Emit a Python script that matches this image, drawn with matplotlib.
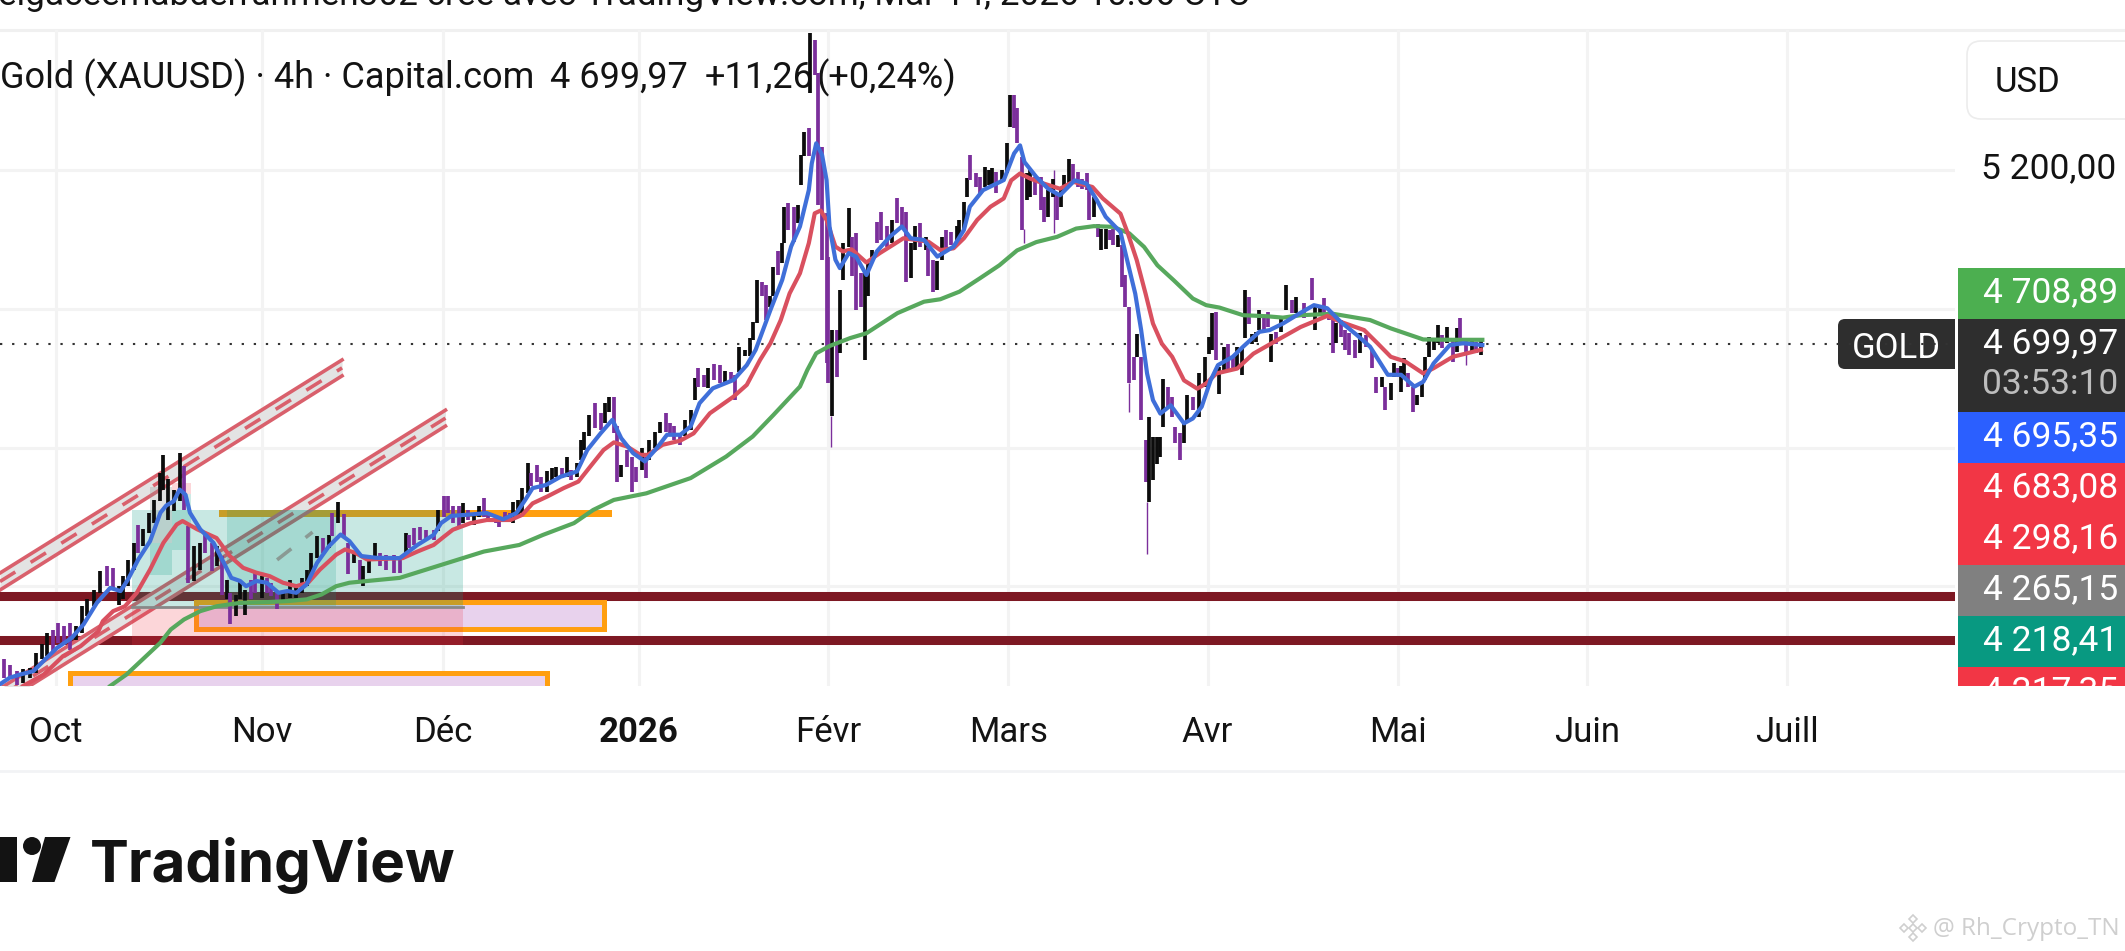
"""Gold 4h TradingView chart snapshot with EMAs and drawings."""

import matplotlib

matplotlib.use("Agg")
import matplotlib.pyplot as plt
import numpy as np
from matplotlib.patches import Circle, FancyBboxPatch, Polygon, Rectangle
from matplotlib.transforms import ScaledTranslation

plt.rcParams["font.family"] = ["Roboto", "DejaVu Sans"]

WIDTH, HEIGHT = 2125, 951
CHART_RIGHT, CHART_TOP, CHART_BOTTOM = 1955, 30, 686

# x is counted in 4h bars from the start of October 2025
month_bars = [0, 139.5, 262, 395, 523, 645, 780, 909, 1037, 1172]
month_labels = ["Oct", "Nov", "Déc", "2026", "Févr", "Mars", "Avr", "Mai", "Juin", "Juill"]
grid_prices = [4000, 4400, 4800, 5200]
last_price = 4699.97

# candles, roughly one for every four bars
candle_bar = [
    -35, -31, -26, -22, -17, -13, -9, -6, -2, 2,
    6, 10, 14, 18, 21, 26, 30, 35, 39, 43,
    46, 49, 53, 56, 59, 63, 67, 71, 73, 76,
    80, 84, 87, 90, 94, 98, 101, 106, 109, 113,
    116, 118, 122, 125, 128, 132, 135, 140, 143, 146,
    150, 154, 159, 163, 167, 170, 173, 177, 181, 185,
    187, 191, 195, 198, 202, 206, 208, 212, 216, 220,
    224, 229, 233,
    237, 239, 243, 247, 251, 256, 259, 263, 266, 269,
    273, 276, 279, 283, 287, 290, 293, 298, 300, 304,
    308, 310, 313, 316, 320, 322, 326, 329, 333, 336,
    339, 343, 346, 349, 353, 356, 358, 361, 365, 369,
    372, 375, 378, 380, 383, 387, 390, 393, 397, 400,
    402, 406, 409, 413, 416, 419, 423, 426, 430, 433,
    435, 439, 442, 446, 450, 453, 457, 460, 463, 467,
    470, 472,
    475, 478, 481, 484, 486, 489, 492, 493, 496, 500,
    503, 505, 507, 510, 511, 514, 516, 519, 522, 523,
    526, 529, 531, 533, 537, 539, 542, 545, 548, 550,
    553, 556, 559, 563, 566, 570, 573, 576, 579, 582,
    585, 589, 591, 594, 597, 600, 603, 606, 610, 612,
    615, 617, 619, 623, 626, 629, 632, 634, 637, 641,
    644, 646, 649, 651,
    654, 658, 660, 663, 667, 669, 672, 675, 678, 681,
    683, 686, 689, 692, 695, 698, 700, 703, 706, 708,
    711, 714, 716, 719, 722, 724, 727, 730, 732, 735,
    738, 740, 743, 746, 748, 750, 753, 756, 758, 761,
    764, 766, 770, 774, 778, 781, 783, 786, 788, 791,
    794, 797, 800, 803, 805, 808, 810, 813, 815, 818,
    821, 823, 826, 830, 833, 837, 840,
    845, 851, 853, 856, 859, 862, 865, 867, 870, 873,
    876, 880, 883, 887, 891, 894, 898, 900, 904, 906,
    909, 911, 913, 916, 919, 922, 925, 927, 930, 933,
    936, 939, 942, 946, 949, 951, 955, 959, 962, 965,
]
candle_high = [
    3789, 3774, 3755, 3760, 3765, 3808, 3832, 3865, 3875, 3894,
    3885, 3894, 3885, 3942, 3962, 3990, 4043, 4058, 4053, 4000,
    4029, 4077, 4125, 4178, 4164, 4212, 4250, 4327, 4380, 4308,
    4279, 4383, 4346, 4173, 4115, 4125, 4149, 4125, 4115, 4087,
    4019, 3981, 3976, 4019, 3990, 4019, 4043, 4029, 4024, 4010,
    3986, 3986, 4019, 4000, 4024, 4048, 4096, 4144, 4139, 4149,
    4212, 4242, 4207, 4125, 4101, 4077, 4058, 4091, 4125, 4096,
    4091, 4091, 4077,
    4153, 4148, 4167, 4172, 4163, 4163, 4220, 4259, 4259, 4230,
    4230, 4239, 4220, 4211, 4230, 4254, 4215, 4206, 4201, 4215,
    4211, 4244, 4249, 4283, 4355, 4326, 4350, 4316, 4331, 4340,
    4345, 4340, 4374, 4336, 4355, 4422, 4446, 4494, 4528, 4499,
    4528, 4547, 4547, 4461, 4350, 4393, 4374, 4345, 4398, 4374,
    4422, 4446, 4475, 4499, 4470, 4461, 4441, 4480, 4509, 4600,
    4629, 4610, 4629, 4641, 4638, 4622, 4619, 4610, 4691, 4682,
    4715, 4763,
    4884, 4879, 4869, 4836, 4922, 4966, 4990, 5095, 5105, 5095,
    5100, 5244, 5312, 5321, 5595, 5576, 5480, 5268, 5076, 4951,
    4740, 4740, 4855, 4990, 5091, 5009, 5018, 4903, 4903, 4932,
    4970, 5052, 5081, 5038, 5057, 5119, 5095, 5081, 4990, 5038,
    5047, 5009, 4980, 4942, 4937, 5009, 5028, 5023, 5038, 5057,
    5110, 5177, 5244, 5192, 5182, 5211, 5201, 5206, 5196, 5201,
    5278, 5417, 5417, 5379,
    5238, 5191, 5200, 5181, 5181, 5123, 5143, 5176, 5133, 5143,
    5186, 5234, 5219, 5195, 5176, 5191, 5143, 5123, 5046, 5032,
    5032, 5027, 5032, 5013, 4984, 4897, 4806, 4662, 4729, 4662,
    4421, 4489, 4431, 4431, 4431, 4599, 4575, 4546, 4460, 4441,
    4470, 4551, 4546, 4614, 4662, 4719, 4787, 4792, 4633, 4691,
    4700, 4662, 4691, 4691, 4854, 4835, 4729, 4734, 4796, 4777,
    4792, 4729, 4734, 4777, 4869, 4825, 4835,
    4816, 4888, 4811, 4811, 4831, 4792, 4768, 4759, 4768, 4739,
    4730, 4711, 4730, 4725, 4682, 4605, 4605, 4576, 4585, 4643,
    4629, 4634, 4658, 4614, 4576, 4552, 4586, 4662, 4720, 4715,
    4754, 4725, 4747, 4711, 4744, 4773, 4711, 4715, 4706, 4715,
]
candle_low = [
    3736, 3736, 3716, 3721, 3736, 3750, 3789, 3798, 3813, 3837,
    3837, 3817, 3846, 3865, 3914, 3942, 3981, 4000, 3990, 3947,
    3962, 4000, 4048, 4096, 4115, 4154, 4183, 4245, 4279, 4192,
    4216, 4245, 4221, 4010, 4015, 4048, 4096, 4043, 4058, 3976,
    3962, 3890, 3914, 3962, 3918, 3962, 3981, 3966, 3981, 3971,
    3933, 3952, 3966, 3966, 3981, 4000, 4029, 4082, 4096, 4111,
    4144, 4183, 4144, 4034, 4067, 4010, 4000, 4039, 4072, 4058,
    4048, 4039, 4039,
    4081, 4110, 4119, 4134, 4134, 4134, 4158, 4201, 4211, 4182,
    4172, 4182, 4191, 4177, 4201, 4201, 4191, 4182, 4170, 4187,
    4187, 4182, 4201, 4211, 4268, 4288, 4302, 4273, 4273, 4307,
    4316, 4312, 4316, 4307, 4316, 4364, 4393, 4432, 4456, 4451,
    4470, 4504, 4441, 4302, 4316, 4345, 4273, 4302, 4336, 4312,
    4364, 4398, 4441, 4446, 4432, 4422, 4408, 4432, 4451, 4537,
    4576, 4576, 4571, 4595, 4586, 4586, 4590, 4538, 4619, 4663,
    4663, 4711,
    4759, 4836, 4769, 4807, 4836, 4898, 4932, 4990, 5028, 4994,
    5047, 5158, 5240, 5240, 5422, 5475, 5100, 4942, 4644, 4586,
    4490, 4605, 4672, 4884, 4980, 4894, 4797, 4807, 4653, 4836,
    4932, 4990, 4999, 4980, 4990, 5047, 5038, 4879, 4889, 4970,
    4980, 4970, 4894, 4850, 4855, 4942, 4970, 4985, 4985, 4990,
    5028, 5124, 5172, 5153, 5134, 5153, 5158, 5153, 5134, 5172,
    5192, 5326, 5321, 5278,
    5027, 5114, 5123, 5128, 5085, 5051, 5066, 5123, 5056, 5094,
    5143, 5157, 5162, 5152, 5147, 5143, 5056, 5066, 5008, 4969,
    4974, 4998, 4984, 4979, 4864, 4806, 4585, 4595, 4662, 4479,
    4301, 4243, 4306, 4354, 4373, 4460, 4518, 4489, 4412, 4364,
    4412, 4470, 4508, 4489, 4575, 4671, 4681, 4652, 4556, 4614,
    4623, 4623, 4623, 4609, 4715, 4758, 4700, 4705, 4739, 4739,
    4748, 4647, 4700, 4734, 4796, 4787, 4787,
    4773, 4826, 4739, 4783, 4787, 4768, 4672, 4701, 4720, 4682,
    4667, 4658, 4672, 4691, 4629, 4557, 4576, 4509, 4537, 4605,
    4605, 4559, 4605, 4576, 4504, 4523, 4547, 4595, 4662, 4682,
    4701, 4686, 4701, 4648, 4677, 4701, 4667, 4677, 4672, 4667,
]
candle_up = [
    0, 0, 0, 1, 1, 1, 1, 1, 0, 0,
    0, 0, 1, 1, 1, 1, 1, 0, 0, 1,
    1, 1, 1, 0, 1, 1, 1, 1, 1, 1,
    1, 1, 0, 0, 1, 1, 0, 0, 1, 0,
    1, 0, 1, 1, 1, 0, 0, 1, 0, 0,
    0, 1, 1, 1, 1, 1, 1, 1, 0, 1,
    0, 1, 0, 0, 1, 0, 1, 1, 1, 0,
    0, 0, 0,
    1, 0, 0, 0, 0, 0, 1, 0, 0, 0,
    0, 1, 0, 1, 1, 0, 0, 0, 0, 0,
    0, 1, 1, 1, 1, 0, 0, 0, 1, 1,
    1, 0, 1, 0, 1, 1, 1, 1, 0, 0,
    1, 1, 0, 0, 1, 0, 0, 0, 1, 0,
    1, 1, 1, 0, 0, 0, 0, 1, 1, 1,
    0, 0, 1, 0, 0, 1, 0, 0, 1, 1,
    1, 1,
    1, 0, 0, 1, 1, 0, 1, 1, 0, 0,
    1, 1, 1, 0, 1, 0, 0, 0, 0, 0,
    1, 0, 1, 1, 1, 0, 0, 0, 1, 1,
    1, 0, 0, 0, 1, 0, 0, 0, 1, 1,
    0, 1, 0, 0, 1, 1, 0, 0, 1, 1,
    1, 1, 0, 0, 0, 1, 1, 1, 0, 1,
    1, 1, 0, 0,
    0, 1, 1, 0, 0, 0, 1, 1, 0, 1,
    1, 1, 0, 0, 0, 0, 0, 1, 0, 1,
    1, 0, 0, 1, 0, 0, 0, 0, 1, 0,
    0, 1, 1, 1, 1, 1, 0, 0, 0, 0,
    1, 1, 0, 1, 1, 1, 1, 0, 1, 1,
    0, 0, 1, 1, 1, 0, 1, 1, 1, 0,
    0, 1, 0, 1, 1, 0, 1,
    0, 0, 1, 1, 0, 0, 0, 1, 0, 0,
    0, 0, 1, 0, 0, 0, 1, 0, 1, 1,
    0, 1, 1, 0, 0, 1, 1, 1, 1, 1,
    1, 0, 1, 0, 1, 0, 0, 1, 0, 1,
]

# the long thin wicks
wick_bar = [525, 739, 727, 676, 656, 955]
wick_high = [4490, 4243, 4585, 5200, 5030, 4700]
wick_low = [4403, 4094, 4503, 5018, 4990, 4638]

fast_bar = [
    -38, -31, -24, -15, -7, 1, 11, 19, 28, 37, 44, 49, 56, 64, 71, 75, 80, 84, 88, 91,
    98, 107, 114, 119, 125, 129, 136, 143, 151, 157, 163, 170, 177, 185, 193, 199, 207, 217,
    233, 245, 256, 261, 268, 278, 292, 303, 312, 318, 323, 332, 342, 353, 360, 369, 377, 383,
    391, 399, 407, 414, 423, 430, 436, 445, 459, 468, 474,
    484, 492, 498, 504, 510, 512, 515, 519, 522, 524, 528, 531, 537, 542, 549, 556, 565, 573,
    579, 588, 597, 608, 615, 619, 628, 642, 649,
    653, 656, 664, 672, 680, 690, 698, 705, 711, 721, 725, 731, 735, 739, 743, 748, 755, 764,
    770, 776, 782, 787, 797, 804, 815, 822, 831,
    843, 852, 861, 870, 881, 890, 902, 911, 920, 926, 933, 944, 953, 966,
]
fast_price = [
    3716, 3736, 3745, 3755, 3789, 3822, 3851, 3890, 3952, 3995, 3986, 4019, 4077, 4130, 4212, 4233, 4245, 4279, 4264, 4212,
    4164, 4125, 4067, 4024, 4015, 4000, 4015, 4010, 3981, 3986, 3981, 4005, 4067, 4115, 4149, 4130, 4087, 4082,
    4081, 4119, 4148, 4182, 4203, 4206, 4211, 4193, 4211, 4249, 4283, 4292, 4316, 4331, 4393, 4441, 4480, 4427,
    4384, 4360, 4398, 4437, 4437, 4461, 4528, 4571, 4595, 4638, 4682,
    4797, 4884, 4980, 5038, 5143, 5220, 5278, 5244, 5172, 5038, 4942, 4918, 4961, 4951, 4898, 4966, 5009, 5038,
    5004, 4999, 4951, 4980, 5028, 5095, 5143, 5172, 5249,
    5272, 5224, 5181, 5147, 5128, 5171, 5162, 5114, 5066, 5022, 4950, 4844, 4739, 4614, 4537, 4498, 4522, 4470,
    4484, 4518, 4594, 4638, 4662, 4691, 4734, 4739, 4758,
    4789, 4811, 4802, 4763, 4725, 4691, 4610, 4610, 4576, 4590, 4643, 4696, 4701, 4696,
]

mid_bar = [
    -22, -8, 5, 17, 29, 32, 39, 47, 55, 64, 73, 82, 86, 96, 109, 118, 127, 136, 145, 154,
    163, 171, 179, 190, 196, 203, 211,
    235, 245, 256, 263, 269, 281, 292, 308, 316, 323, 333, 344, 354, 362, 371, 378, 387, 396,
    401, 411, 423, 432, 443, 459, 468,
    477, 484, 491, 497, 504, 510, 514, 518, 522, 528, 533, 539, 549, 558, 567, 574, 583, 591,
    599, 608, 615, 624, 633, 642,
    647, 653, 660, 669, 680, 689, 702, 709, 721, 726, 732, 738, 743, 749, 756, 764, 773, 779,
    786, 800, 811, 825, 843,
    861, 870, 886, 895, 904, 914, 926, 933, 946, 965,
]
mid_price = [
    3712, 3745, 3798, 3827, 3870, 3899, 3928, 3942, 3981, 4048, 4125, 4178, 4188, 4164, 4139, 4087, 4053, 4039, 4029, 4010,
    4000, 4010, 4048, 4091, 4106, 4096, 4077,
    4081, 4100, 4119, 4143, 4163, 4182, 4191, 4191, 4206, 4239, 4259, 4283, 4302, 4345, 4393, 4415, 4403, 4379,
    4379, 4408, 4420, 4441, 4499, 4547, 4581,
    4653, 4701, 4768, 4845, 4903, 4990, 5076, 5084, 5057, 4980, 4966, 4972, 4934, 4961, 4985, 5004, 4999, 4994,
    4970, 4975, 5004, 5057, 5095, 5119,
    5171, 5191, 5176, 5162, 5147, 5167, 5152, 5119, 5075, 5018, 4941, 4844, 4758, 4700, 4662, 4594, 4570, 4585,
    4614, 4628, 4671, 4705, 4748,
    4780, 4763, 4739, 4701, 4662, 4648, 4614, 4629, 4662, 4682,
]

slow_bar = [
    37, 48, 59, 71, 78, 87, 98, 109, 125, 143, 157, 170, 180, 190, 199, 211, 233,
    272, 290, 314, 330, 351, 364, 378, 400, 430, 454, 472, 486, 504,
    509, 515, 524, 538, 549, 570, 588, 599, 612, 626,
    639, 651, 664, 678, 691, 703, 716, 727, 737, 746, 757, 770, 779, 788, 804, 820, 831, 843,
    865, 890, 904, 926, 946, 966,
]
slow_price = [
    3712, 3745, 3789, 3837, 3875, 3904, 3928, 3942, 3952, 3954, 3957, 3962, 3976, 4000, 4010, 4015, 4024,
    4076, 4100, 4119, 4148, 4182, 4220, 4249, 4268, 4312, 4374, 4432, 4494, 4576,
    4624, 4672, 4693, 4716, 4730, 4788, 4821, 4828, 4850, 4889,
    4926, 4969, 4993, 5008, 5032, 5039, 5037, 5018, 4979, 4926, 4883, 4830, 4811, 4804, 4782, 4779, 4775, 4782,
    4786, 4768, 4744, 4712, 4711, 4711,
]

# horizontal levels and diagonal channels drawn on the chart
level_prices = [3972, 3845]
channel_bars = [[-37.6, 194], [-36, 264]]
channel_tops = [[4038, 4653], [3709, 4508]]
channel_bottoms = [[3989, 4607], [3663, 4462]]

price_tags = ["4 708,89", "4 699,97", "4 695,35", "4 683,08", "4 298,16", "4 265,15", "4 218,41", "4 217,35"]
tag_colors = ["#4caf50", "#2e2e2e", "#2b5fff", "#f23645", "#f23645", "#808080", "#089981", "#f23645"]
countdown = "03:53:10"

BLACK = "#131313"
UP_COLOR = "#0c0c0c"
DOWN_COLOR = "#7b2f9b"
TEAL = "#089981"
PINK = "#f23645"
ORANGE = "#ff9f10"
MAUVE = "#e8d2ed"
DARK_RED = "#7d1823"
CHANNEL = "#d9606c"


def add_box(ax, left, right, low, high, **style):
    """Add a rectangle given in bars and prices."""
    ax.add_patch(Rectangle((left, low), right - left, high - low, **style))


def draw_drawings(ax):
    """Draw the user's levels, boxes and channels below the price series."""
    for price in level_prices:
        ax.axhline(price, color=DARK_RED, lw=6.5, zorder=2)

    add_box(ax, 111, 377, 4200, 4220, color=ORANGE, lw=0, zorder=3)
    add_box(ax, 95, 371, 3876, 3954, fc=MAUVE, ec=ORANGE, lw=3.6, zorder=3)
    add_box(ax, 10, 333, 3600, 3749, fc=MAUVE, ec=ORANGE, lw=3.6, zorder=3)

    for bars, tops, bottoms in zip(channel_bars, channel_tops, channel_bottoms):
        ax.fill_between(bars, bottoms, tops, color="#e3e3e3", lw=0, zorder=3)
        ax.plot(bars, tops, color=CHANNEL, lw=2.6, zorder=3.1)
        ax.plot(bars, bottoms, color=CHANNEL, lw=2.6, zorder=3.1)
        middle = (np.array(tops) + np.array(bottoms)) / 2
        ax.plot(bars, middle, color=CHANNEL, lw=2.6, ls=(0, (5, 5)), zorder=3.1)

    add_box(ax, 52, 276, 3940, 4220, color=TEAL, alpha=0.22, lw=0, zorder=4)
    add_box(ax, 116, 190, 3940, 4220, color=TEAL, alpha=0.18, lw=0, zorder=4)
    add_box(ax, 52, 276, 3830, 3940, color=PINK, alpha=0.2, lw=0, zorder=4)
    ax.plot([52, 276], [3940, 3940], color="#888888", lw=2, zorder=4.1)

    add_box(ax, 64, 79, 4125, 4286, color="#999999", alpha=0.3, lw=0, zorder=4)
    add_box(ax, 64, 79, 4032, 4125, color=TEAL, alpha=0.2, lw=0, zorder=4)
    add_box(ax, 79, 92, 4266, 4298, color=PINK, alpha=0.2, lw=0, zorder=4)
    add_box(ax, 79, 92, 4105, 4266, color=TEAL, alpha=0.2, lw=0, zorder=4)
    ax.plot([150, 174], [4076, 4156], color="#8a9a94", lw=2.6, ls=(0, (5, 5)), zorder=4.1)


def draw_series(ax):
    """Draw candles and the three moving averages."""
    up = np.array(candle_up, dtype=bool)
    colors = np.where(up, UP_COLOR, DOWN_COLOR)
    ax.vlines(wick_bar, wick_low, wick_high, color=DOWN_COLOR, lw=1.0, zorder=5)
    ax.vlines(candle_bar, candle_low, candle_high, colors=list(colors), lw=2.7, zorder=5)
    ax.plot(slow_bar, slow_price, color="#57a85d", lw=3.0, zorder=6)
    ax.plot(mid_bar, mid_price, color="#d9505f", lw=3.0, zorder=6)
    ax.plot(fast_bar, fast_price, color="#3f6fd9", lw=3.0, zorder=6)


def draw_price_scale(fig):
    """Draw the stacked price tags at the right of the chart."""
    scale = fig.add_axes(
        [1958 / WIDTH, 1 - CHART_BOTTOM / HEIGHT, (WIDTH - 1958) / WIDTH, (CHART_BOTTOM - CHART_TOP) / HEIGHT]
    )
    scale.set_xlim(1958, WIDTH)
    scale.set_ylim(CHART_BOTTOM, CHART_TOP)
    scale.axis("off")

    top = 268
    for tag, color in zip(price_tags, tag_colors):
        height = 93 if tag == "4 699,97" else 51
        scale.add_patch(Rectangle((1958, top), WIDTH - 1958, height, color=color, lw=0))
        scale.text(2118, top + 25, tag, color="white", fontsize=25.5, ha="right", va="center", clip_on=True)
        if tag == "4 699,97":
            scale.text(2118, top + 66, countdown, color="#bdbdbd", fontsize=25.5, ha="right", va="center")
        top += height


def draw_page(fig):
    """Draw everything around the chart, in pixel coordinates."""
    page = fig.add_axes([0, 0, 1, 1])
    page.set_xlim(0, WIDTH)
    page.set_ylim(HEIGHT, 0)
    page.axis("off")

    page.plot([0, WIDTH], [CHART_TOP, CHART_TOP], color="#f0f0f0", lw=2.2)
    page.plot([0, WIDTH], [771, 771], color="#f2f3f5", lw=2)

    page.text(
        -2, 5, "elgaceemabderrahmen302 créé avec TradingView.com, Mar 14, 2026 10:06 UTC",
        color=BLACK, fontsize=25.3, va="baseline", ha="left",
    )

    page.add_patch(
        FancyBboxPatch((1967, 41), 200, 78, boxstyle="round,pad=0,rounding_size=14", fc="white", ec="#ececec", lw=1.2)
    )
    page.text(1995, 83, "USD", color=BLACK, fontsize=25, va="center")

    page.add_patch(
        FancyBboxPatch((1838, 319), 130, 50, boxstyle="round,pad=0,rounding_size=7", fc="#2e2e2e", ec="none")
    )
    page.add_patch(Rectangle((1955, 310), 3, 70, color="white", lw=0))
    page.text(1896, 348, "GOLD", color="white", fontsize=25, ha="center", va="center")

    # TradingView logo
    page.add_patch(Rectangle((0, 837), 17, 45, color=BLACK, lw=0))
    page.add_patch(Circle((32, 846), 9, color=BLACK, lw=0))
    page.add_patch(Polygon([(45, 837), (70.5, 837), (54.5, 882), (32, 882)], color=BLACK, lw=0))
    page.text(90, 882, "TradingView", color=BLACK, fontsize=42, family="Inter", weight="bold", va="baseline")

    # watermark
    for dx, dy in [(0, 0), (-9, 0), (9, 0), (0, -9), (0, 9)]:
        cx, cy = 1913 + dx, 928 + dy
        page.add_patch(
            Polygon(
                [(cx - 4, cy), (cx, cy - 4), (cx + 4, cy), (cx, cy + 4)],
                fc="white", ec="#cfcfcf", lw=1.2,
            )
        )
    page.text(1933, 929, "@ Rh_Crypto_TN", color="#cfcfcf", fontsize=17.5, family="Open Sans", va="center")
    return page


def main():
    fig = plt.figure(figsize=(WIDTH / 100, HEIGHT / 100), dpi=100, facecolor="white")
    page = draw_page(fig)

    ax = fig.add_axes(
        [0, 1 - CHART_BOTTOM / HEIGHT, CHART_RIGHT / WIDTH, (CHART_BOTTOM - CHART_TOP) / HEIGHT],
        facecolor="none",
    )
    ax.set_xlim(-37.6, 1286)
    ax.set_ylim(3712, 5605)
    for spine in ax.spines.values():
        spine.set_visible(False)

    ax.set_xticks(month_bars, month_labels)
    ax.set_yticks(grid_prices, ["", "", "", "5 200,00"])
    ax.yaxis.tick_right()
    ax.tick_params(axis="x", length=0, pad=21.5, labelsize=25, labelcolor=BLACK)
    ax.tick_params(axis="y", length=0, pad=116, labelsize=25.5, labelcolor=BLACK)
    shift_up = ScaledTranslation(0, 0.05, fig.dpi_scale_trans)
    for label in ax.get_yticklabels():
        label.set_ha("right")
        label.set_transform(label.get_transform() + shift_up)
    for label in ax.get_xticklabels():
        if label.get_text() == "2026":
            label.set_fontweight("bold")
    ax.grid(color="#f3f3f3", lw=2.2, zorder=0)
    ax.set_axisbelow(True)

    ax.axhline(last_price, color="#333333", lw=1.5, ls=(0, (1.1, 4.7)), zorder=1)
    draw_drawings(ax)
    draw_series(ax)

    # legend line sits under the candles, as in the snapshot
    legend_parts = [
        (0, "Gold (XAUUSD) · 4h · Capital.com"),
        (550, "4 699,97"),
        (705, "+11,26"),
        (817, "(+0,24%)"),
    ]
    for x, text in legend_parts:
        ax.text(x, 78, text, color=BLACK, fontsize=26, va="center", zorder=1.5, transform=page.transData)

    draw_price_scale(fig)
    fig.savefig("out.png", dpi=100)
    plt.close(fig)


if __name__ == "__main__":
    main()
